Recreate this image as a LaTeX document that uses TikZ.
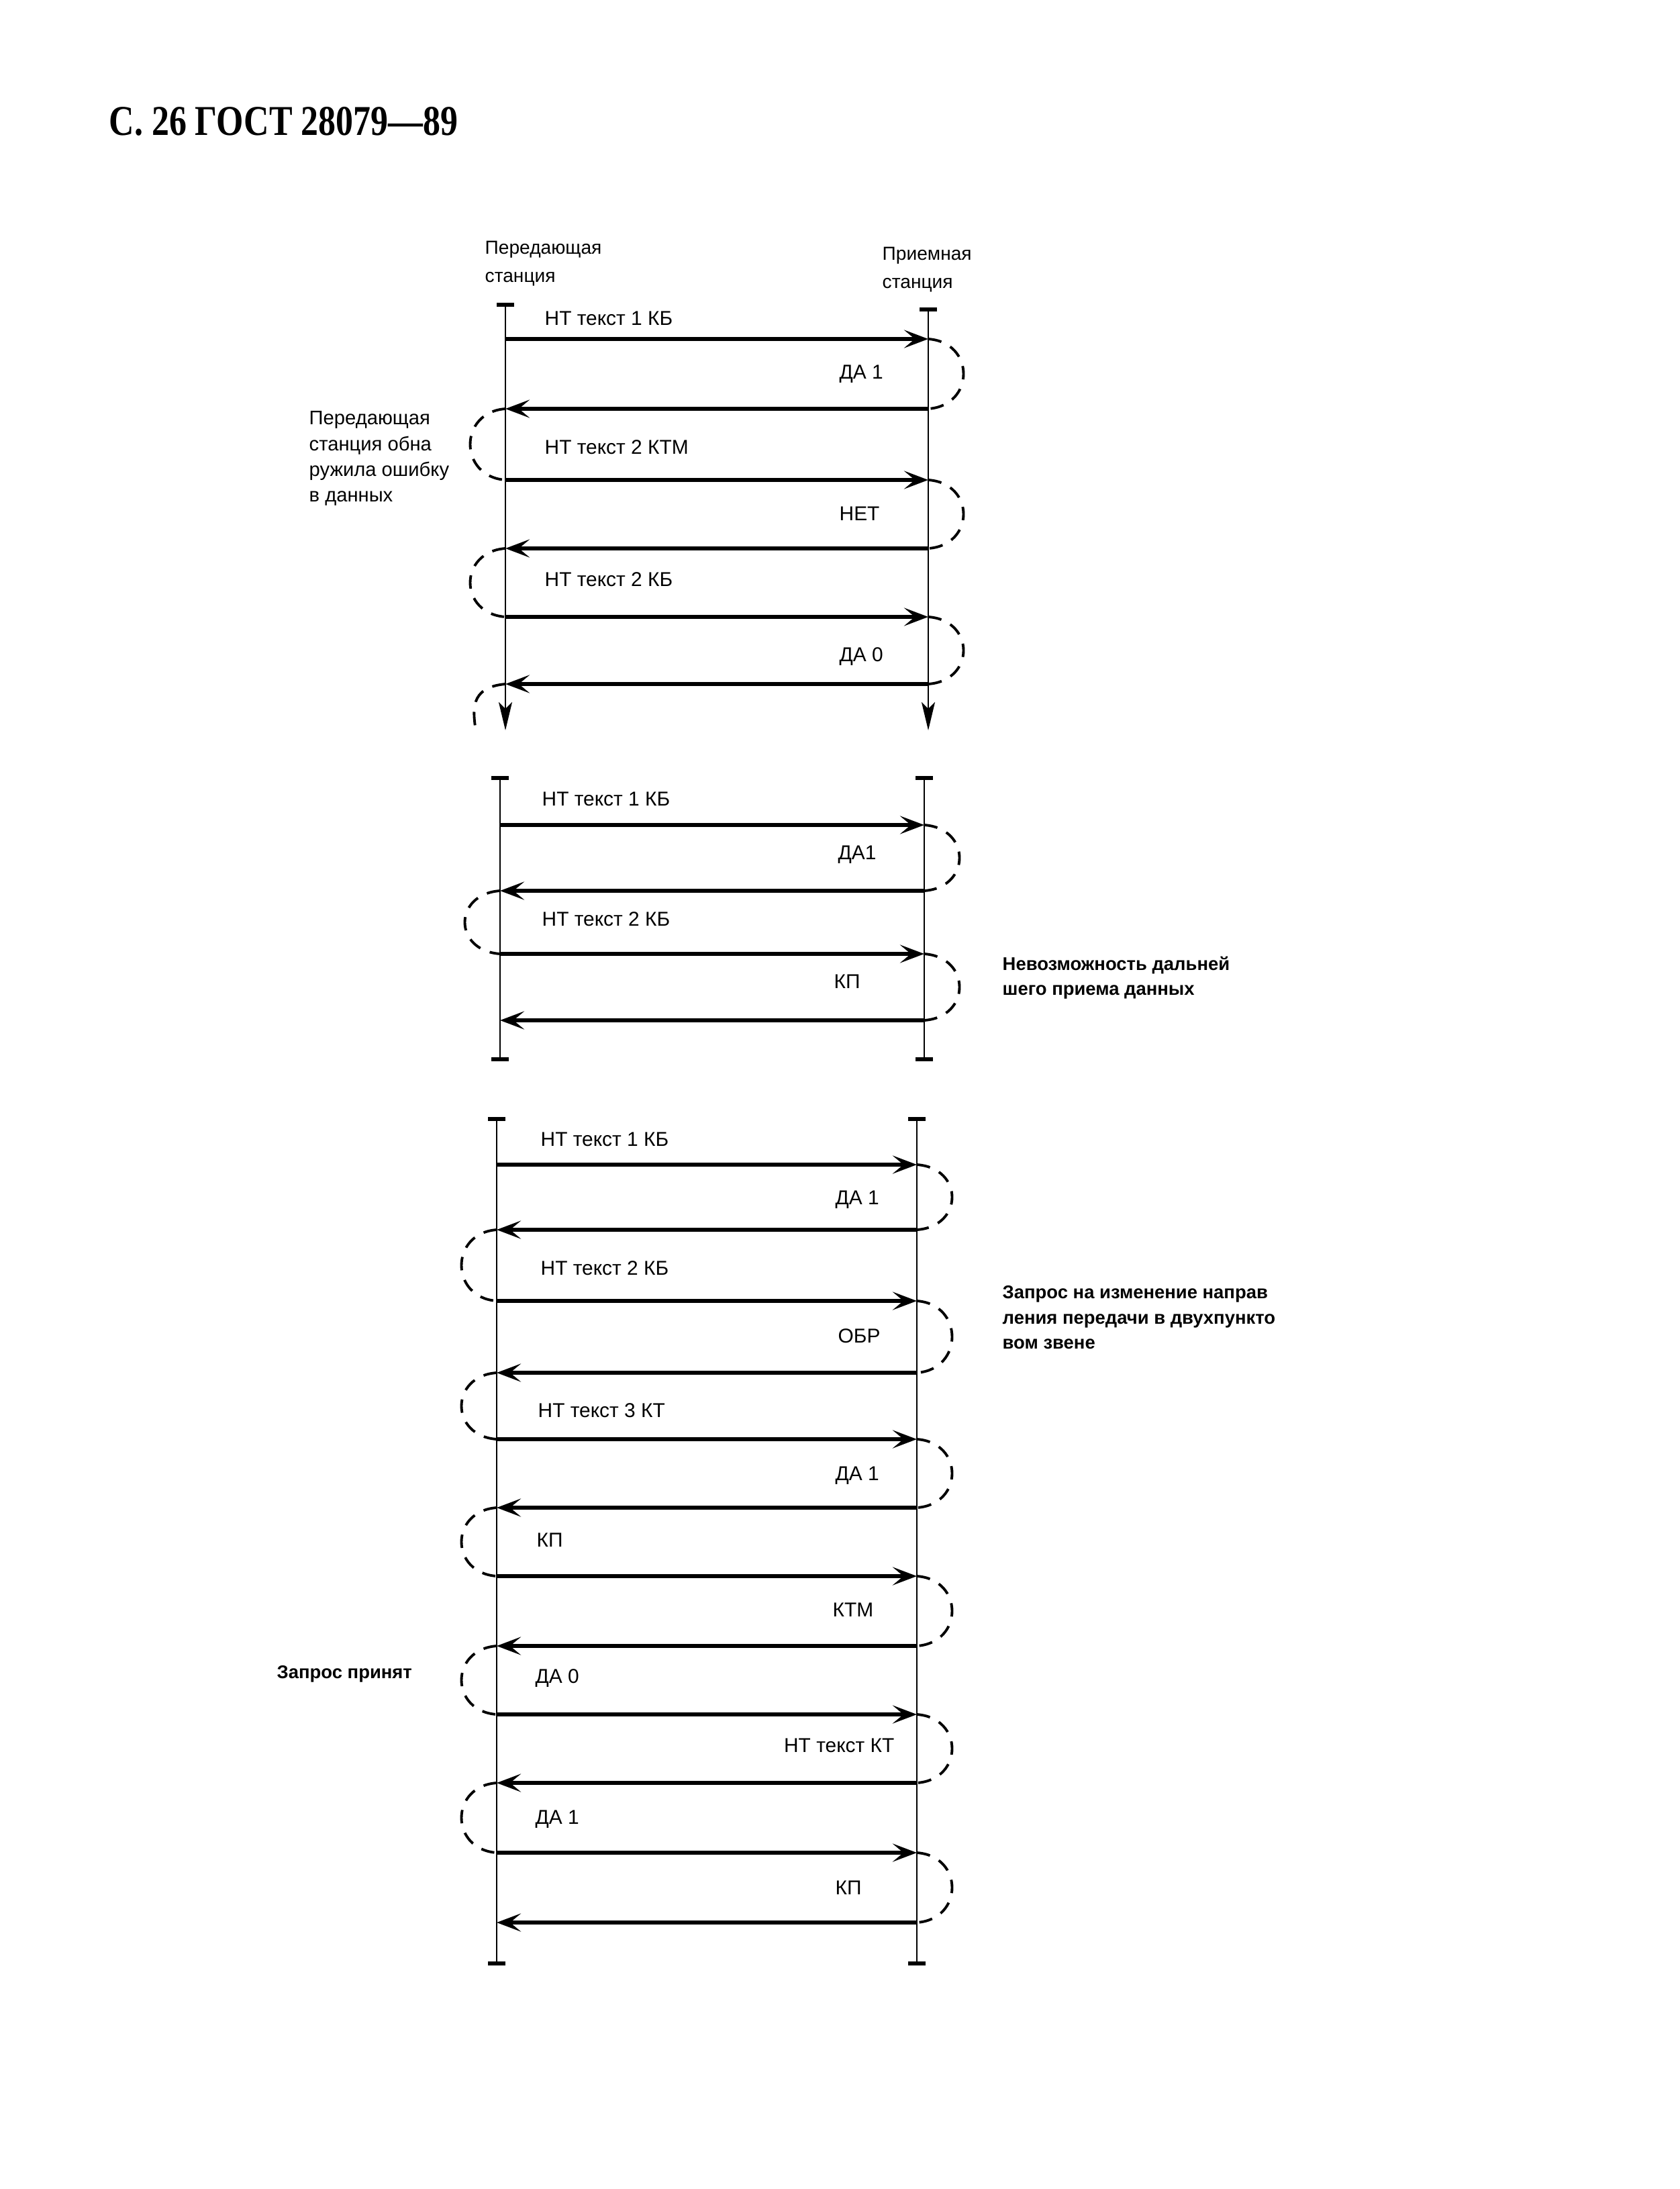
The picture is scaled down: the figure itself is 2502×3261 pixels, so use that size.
\documentclass[tikz,border=0pt]{standalone}
\usepackage{fontspec}
\setmainfont{Liberation Sans}
\newfontfamily\titlefont[FakeStretch=0.82]{Liberation Serif}
\usetikzlibrary{arrows.meta}
\pgfdeclarelayer{edgelayer}
\pgfdeclarelayer{nodelayer}
\pgfsetlayers{edgelayer,nodelayer,main}
\tikzstyle{lifeline}=[draw=black, line width=0.8pt]
\tikzstyle{barends}=[{Bar[width=0.26cm,line width=1.8pt]}-{Bar[width=0.26cm,line width=1.8pt]}]
\tikzstyle{downends}=[{Bar[width=0.26cm,line width=1.8pt]}-{Stealth[length=0.42cm,width=0.2cm,inset=0.1cm]}]
\tikzstyle{msg}=[draw=black, line width=1.7pt, -{Stealth[length=0.36cm,width=0.27cm,inset=0.16cm]}]
\tikzstyle{turn}=[draw=black, line width=1.1pt, dash pattern=on 0.2cm off 0.15cm]
\tikzstyle{msgtext}=[anchor=west, inner sep=0pt, font=\fontsize{8.5}{10}\selectfont]
\tikzstyle{headtext}=[anchor=north west, align=left, inner sep=0pt, font=\fontsize{8}{12}\selectfont]
\tikzstyle{notetext}=[anchor=north west, align=left, inner sep=0pt, font=\fontsize{8.3}{10.9}\selectfont]
\tikzstyle{bignote}=[anchor=north west, align=left, inner sep=0pt, font=\bfseries\fontsize{7.8}{10.6}\selectfont]

\begin{document}
\begin{tikzpicture}[x=0.01cm, y=-0.01cm]
	\useasboundingbox (0, 0) rectangle (2502, 3261);
	\begin{pgfonlayer}{nodelayer}
		\node [anchor=west, inner sep=0pt, font=\titlefont\bfseries\fontsize{18}{20}\selectfont] (title) at (162, 181) {С.\ 26 ГОСТ 28079—89};
		% first exchange
		\node [style=headtext] (sendhead) at (722, 358) {Передающая\\станция};
		\node [style=headtext] (recvhead) at (1314, 367) {Приемная\\станция};
		\coordinate (At) at (753, 451);
		\coordinate (Ab) at (753, 1088);
		\coordinate (Bt) at (1383, 458);
		\coordinate (Bb) at (1383, 1088);
		\coordinate (A1) at (753, 505);
		\coordinate (B1) at (1383, 505);
		\coordinate (A2) at (753, 609);
		\coordinate (B2) at (1383, 609);
		\coordinate (A3) at (753, 715);
		\coordinate (B3) at (1383, 715);
		\coordinate (A4) at (753, 817);
		\coordinate (B4) at (1383, 817);
		\coordinate (A5) at (753, 919);
		\coordinate (B5) at (1383, 919);
		\coordinate (A6) at (753, 1019);
		\coordinate (B6) at (1383, 1019);
		\coordinate (A7) at (709, 1090);
		\node [style=msgtext] (m1) at (811, 474) {НТ текст 1 КБ};
		\node [style=msgtext] (m2) at (1250, 557) {ДА 1};
		\node [style=msgtext] (m3) at (811, 666) {НТ текст 2 КТМ};
		\node [style=msgtext] (m4) at (1250, 765) {НЕТ};
		\node [style=msgtext] (m5) at (811, 863) {НТ текст 2 КБ};
		\node [style=msgtext] (m6) at (1250, 978) {ДА 0};
		\node [style=notetext] (errnote) at (460, 612) {Передающая\\станция обна\\ружила ошибку\\в данных};
		% second exchange
		\coordinate (Ct) at (745, 1156);
		\coordinate (Cb) at (745, 1581);
		\coordinate (Dt) at (1377, 1156);
		\coordinate (Db) at (1377, 1581);
		\coordinate (C1) at (745, 1229);
		\coordinate (D1) at (1377, 1229);
		\coordinate (C2) at (745, 1327);
		\coordinate (D2) at (1377, 1327);
		\coordinate (C3) at (745, 1421);
		\coordinate (D3) at (1377, 1421);
		\coordinate (C4) at (745, 1520);
		\coordinate (D4) at (1377, 1520);
		\node [style=msgtext] (n1) at (807, 1190) {НТ текст 1 КБ};
		\node [style=msgtext] (n2) at (1248, 1273) {ДА1};
		\node [style=msgtext] (n3) at (807, 1369) {НТ текст 2 КБ};
		\node [style=msgtext] (n4) at (1242, 1462) {КП};
		\node [style=bignote] (stopnote) at (1493, 1424) {Невозможность дальней\\шего приема данных};
		% third exchange
		\coordinate (Et) at (740, 1664);
		\coordinate (Eb) at (740, 2928);
		\coordinate (Ft) at (1366, 1664);
		\coordinate (Fb) at (1366, 2928);
		\coordinate (E1) at (740, 1735);
		\coordinate (F1) at (1366, 1735);
		\coordinate (E2) at (740, 1832);
		\coordinate (F2) at (1366, 1832);
		\coordinate (E3) at (740, 1938);
		\coordinate (F3) at (1366, 1938);
		\coordinate (E4) at (740, 2045);
		\coordinate (F4) at (1366, 2045);
		\coordinate (E5) at (740, 2144);
		\coordinate (F5) at (1366, 2144);
		\coordinate (E6) at (740, 2246);
		\coordinate (F6) at (1366, 2246);
		\coordinate (E7) at (740, 2348);
		\coordinate (F7) at (1366, 2348);
		\coordinate (E8) at (740, 2452);
		\coordinate (F8) at (1366, 2452);
		\coordinate (E9) at (740, 2554);
		\coordinate (F9) at (1366, 2554);
		\coordinate (E10) at (740, 2656);
		\coordinate (F10) at (1366, 2656);
		\coordinate (E11) at (740, 2760);
		\coordinate (F11) at (1366, 2760);
		\coordinate (E12) at (740, 2864);
		\coordinate (F12) at (1366, 2864);
		\node [style=msgtext] (k1) at (805, 1697) {НТ текст 1 КБ};
		\node [style=msgtext] (k2) at (1244, 1787) {ДА 1};
		\node [style=msgtext] (k3) at (805, 1889) {НТ текст 2 КБ};
		\node [style=msgtext] (k4) at (1248, 1990) {ОБР};
		\node [style=msgtext] (k5) at (801, 2101) {НТ текст 3 КТ};
		\node [style=msgtext] (k6) at (1244, 2198) {ДА 1};
		\node [style=msgtext] (k7) at (799, 2294) {КП};
		\node [style=msgtext] (k8) at (1240, 2398) {КТМ};
		\node [style=msgtext] (k9) at (797, 2500) {ДА 0};
		\node [style=msgtext, anchor=east] (k10) at (1333, 2600) {НТ текст КТ};
		\node [style=msgtext] (k11) at (797, 2710) {ДА 1};
		\node [style=msgtext] (k12) at (1244, 2812) {КП};
		\node [style=bignote] (turnnote) at (1493, 1915) {Запрос на изменение направ\\ления передачи в двухпункто\\вом звене};
		\node [style=bignote] (oknote) at (412, 2481) {Запрос принят};
	\end{pgfonlayer}
	\begin{pgfonlayer}{edgelayer}
		\draw [style=lifeline, style=downends] (At) to (Ab);
		\draw [style=lifeline, style=downends] (Bt) to (Bb);
		\draw [style=msg] (A1) to (B1);
		\draw [style=msg] (B2) to (A2);
		\draw [style=msg] (A3) to (B3);
		\draw [style=msg] (B4) to (A4);
		\draw [style=msg] (A5) to (B5);
		\draw [style=msg] (B6) to (A6);
		\draw [style=turn] (B1) .. controls +(70, 5) and +(70, -5) .. (B2);
		\draw [style=turn] (A2) .. controls +(-70, 5) and +(-70, -5) .. (A3);
		\draw [style=turn] (B3) .. controls +(70, 5) and +(70, -5) .. (B4);
		\draw [style=turn] (A4) .. controls +(-70, 5) and +(-70, -5) .. (A5);
		\draw [style=turn] (B5) .. controls +(70, 5) and +(70, -5) .. (B6);
		\draw [style=turn] (A6) .. controls +(-55, 5) and +(-4, -30) .. (A7);

		\draw [style=lifeline, style=barends] (Ct) to (Cb);
		\draw [style=lifeline, style=barends] (Dt) to (Db);
		\draw [style=msg] (C1) to (D1);
		\draw [style=msg] (D2) to (C2);
		\draw [style=msg] (C3) to (D3);
		\draw [style=msg] (D4) to (C4);
		\draw [style=turn] (D1) .. controls +(70, 5) and +(70, -5) .. (D2);
		\draw [style=turn] (C2) .. controls +(-70, 5) and +(-70, -5) .. (C3);
		\draw [style=turn] (D3) .. controls +(70, 5) and +(70, -5) .. (D4);

		\draw [style=lifeline, style=barends] (Et) to (Eb);
		\draw [style=lifeline, style=barends] (Ft) to (Fb);
		\draw [style=msg] (E1) to (F1);
		\draw [style=msg] (F2) to (E2);
		\draw [style=msg] (E3) to (F3);
		\draw [style=msg] (F4) to (E4);
		\draw [style=msg] (E5) to (F5);
		\draw [style=msg] (F6) to (E6);
		\draw [style=msg] (E7) to (F7);
		\draw [style=msg] (F8) to (E8);
		\draw [style=msg] (E9) to (F9);
		\draw [style=msg] (F10) to (E10);
		\draw [style=msg] (E11) to (F11);
		\draw [style=msg] (F12) to (E12);
		\draw [style=turn] (F1) .. controls +(70, 5) and +(70, -5) .. (F2);
		\draw [style=turn] (E2) .. controls +(-70, 5) and +(-70, -5) .. (E3);
		\draw [style=turn] (F3) .. controls +(70, 5) and +(70, -5) .. (F4);
		\draw [style=turn] (E4) .. controls +(-70, 5) and +(-70, -5) .. (E5);
		\draw [style=turn] (F5) .. controls +(70, 5) and +(70, -5) .. (F6);
		\draw [style=turn] (E6) .. controls +(-70, 5) and +(-70, -5) .. (E7);
		\draw [style=turn] (F7) .. controls +(70, 5) and +(70, -5) .. (F8);
		\draw [style=turn] (E8) .. controls +(-70, 5) and +(-70, -5) .. (E9);
		\draw [style=turn] (F9) .. controls +(70, 5) and +(70, -5) .. (F10);
		\draw [style=turn] (E10) .. controls +(-70, 5) and +(-70, -5) .. (E11);
		\draw [style=turn] (F11) .. controls +(70, 5) and +(70, -5) .. (F12);
	\end{pgfonlayer}
\end{tikzpicture}
\end{document}
